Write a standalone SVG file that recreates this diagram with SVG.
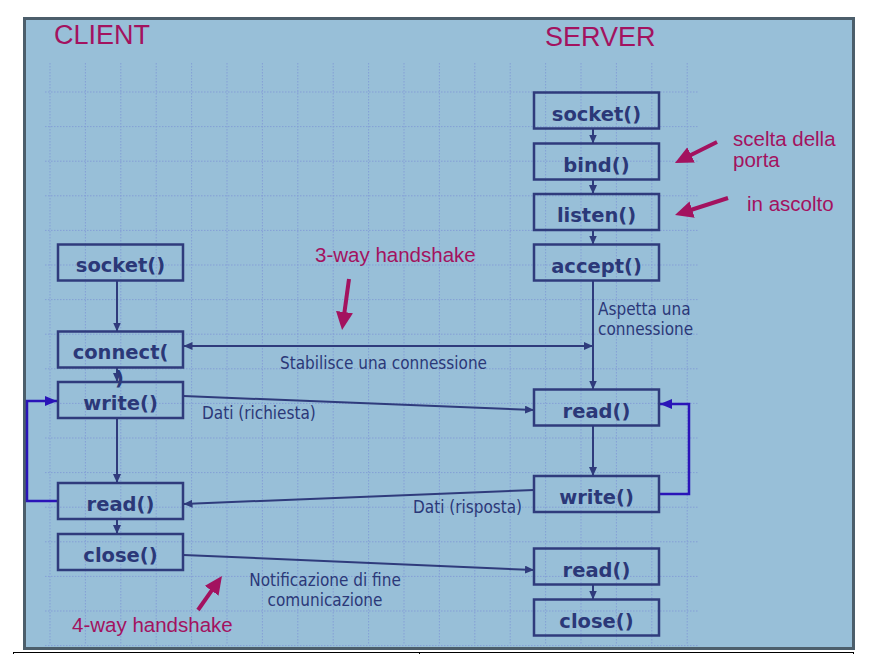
<svg xmlns="http://www.w3.org/2000/svg" width="882" height="654" viewBox="0 0 882 654">
<style>
.box{fill:none;stroke:#2f3b7c;stroke-width:2.5}
.bl{font-family:'DejaVu Sans',Verdana,sans-serif;font-weight:bold;font-size:19.5px;fill:#2b3878;text-anchor:middle}
.lbl{font-family:'DejaVu Sans Condensed','DejaVu Sans',sans-serif;font-stretch:condensed;font-size:17px;fill:#2b3878}
.mg{font-family:'Liberation Sans',Arial,sans-serif;font-size:20.5px;fill:#a3125f}
.ttl{font-family:'Liberation Sans',Arial,sans-serif;font-size:27px;fill:#a3125f}
.cn{fill:none;stroke:#2f3b7c;stroke-width:2}
.lp{fill:none;stroke:#2a14b8;stroke-width:2.5}
.ma{fill:none;stroke:#a3125f;stroke-width:4}
.grid{fill:none;stroke:#849fd6;stroke-width:1;stroke-dasharray:1.5 1.5}
</style>
<defs>
<marker id="an" markerUnits="userSpaceOnUse" markerWidth="9" markerHeight="8" refX="9" refY="4" orient="auto"><path d="M0,0 L9,4 L0,8 z" fill="#2f3b7c"/></marker>
<marker id="as" markerUnits="userSpaceOnUse" markerWidth="9" markerHeight="8" refX="0" refY="4" orient="auto"><path d="M9,0 L0,4 L9,8 z" fill="#2f3b7c"/></marker>
<marker id="ab" markerUnits="userSpaceOnUse" markerWidth="12" markerHeight="10" refX="12" refY="5" orient="auto"><path d="M0,0 L12,5 L0,10 z" fill="#2a14b8"/></marker>
<marker id="am" markerUnits="userSpaceOnUse" markerWidth="18" markerHeight="17" refX="8" refY="8.5" orient="auto"><path d="M0,0 L18,8.5 L0,17 z" fill="#a3125f"/></marker>
</defs>
<rect x="0" y="0" width="882" height="654" fill="#ffffff"/>
<rect x="24.5" y="18.5" width="829" height="630" fill="#98bfd8" stroke="#4c5e6b" stroke-width="3"/>
<path class="grid" d="M50,63V645M85.4,63V645M120.8,63V645M156.2,63V645M191.6,63V645M227,63V645M262.4,63V645M297.8,63V645M333.2,63V645M368.6,63V645M404,63V645M439.4,63V645M474.8,63V645M510.2,63V645M545.6,63V645M581,63V645M616.4,63V645M651.8,63V645M687.2,63V645M45,92H698M45,126.6H698M45,161.2H698M45,195.8H698M45,230.4H698M45,265H698M45,299.6H698M45,334.2H698M45,368.8H698M45,403.4H698M45,438H698M45,472.6H698M45,507.2H698M45,541.8H698M45,576.4H698M45,611H698M45,645.6H698"/>
<path d="M13,652.5H854M13.5,652V654M419.5,652V654M853.5,652V654" stroke="#000" stroke-width="1" fill="none"/>
<text class="ttl" x="54" y="44">CLIENT</text>
<text class="ttl" x="545" y="45.5">SERVER</text>
<g id="connectors">
<path class="cn" d="M593,128.5V143.5" marker-end="url(#an)"/>
<path class="cn" d="M593,179.5V194" marker-end="url(#an)"/>
<path class="cn" d="M593,230V244.5" marker-end="url(#an)"/>
<path class="cn" d="M593,280.5V389.5" marker-end="url(#an)"/>
<path class="cn" d="M593,425.5V476" marker-end="url(#an)"/>
<path class="cn" d="M593,584.5V599.5" marker-end="url(#an)"/>
<path class="cn" d="M117,280.5V331.5" marker-end="url(#an)"/>
<path class="cn" d="M117,367.5V382" marker-end="url(#an)"/>
<path class="cn" d="M117,418V483" marker-end="url(#an)"/>
<path class="cn" d="M117,519V534" marker-end="url(#an)"/>
<path class="cn" d="M183.5,346H593" marker-start="url(#as)" marker-end="url(#an)"/>
<path class="cn" d="M183.5,396L534,410" marker-end="url(#an)"/>
<path class="cn" d="M534,490L183.5,504" marker-end="url(#an)"/>
<path class="cn" d="M183.5,555L534,570" marker-end="url(#an)"/>
<path class="lp" d="M57,501H27V401H57" marker-end="url(#ab)"/>
<path class="lp" d="M660,494H689V404H660" marker-end="url(#ab)"/>
<path class="ma" d="M717,142L683.9,158.5" marker-end="url(#am)"/>
<path class="ma" d="M728,198L684.5,212" marker-end="url(#am)"/>
<path class="ma" d="M349,279L343.4,320" marker-end="url(#am)"/>
<path class="ma" d="M198,610L216.2,584.2" marker-end="url(#am)"/>
<text class="lbl" x="280" y="369">Stabilisce una connessione</text>
<text class="lbl" x="598" y="315">Aspetta una</text>
<text class="lbl" x="598" y="335">connessione</text>
<text class="lbl" x="202" y="419">Dati (richiesta)</text>
<text class="lbl" x="413" y="513">Dati (risposta)</text>
<text class="lbl" x="325" y="585.5" text-anchor="middle">Notificazione di fine</text>
<text class="lbl" x="325" y="605.5" text-anchor="middle">comunicazione</text>
</g>
<g id="s_socket"><rect class="box" x="534" y="92.5" width="125" height="36"/><text class="bl" x="596.5" y="120.5">socket()</text></g>
<g id="s_bind"><rect class="box" x="534" y="143.5" width="125" height="36"/><text class="bl" x="596.5" y="171.5">bind()</text></g>
<g id="s_listen"><rect class="box" x="534" y="194" width="125" height="36"/><text class="bl" x="596.5" y="222">listen()</text></g>
<g id="s_accept"><rect class="box" x="534" y="244.5" width="125" height="36"/><text class="bl" x="596.5" y="272.5">accept()</text></g>
<g id="s_read"><rect class="box" x="534" y="389.5" width="125" height="36"/><text class="bl" x="596.5" y="417.5">read()</text></g>
<g id="s_write"><rect class="box" x="534" y="476" width="125" height="36"/><text class="bl" x="596.5" y="504">write()</text></g>
<g id="s_read2"><rect class="box" x="534" y="548.5" width="125" height="36"/><text class="bl" x="596.5" y="576.5">read()</text></g>
<g id="s_close"><rect class="box" x="534" y="599.5" width="125" height="36"/><text class="bl" x="596.5" y="627.5">close()</text></g>
<g id="c_socket"><rect class="box" x="58" y="244.5" width="125" height="36"/><text class="bl" x="120.5" y="272">socket()</text></g>
<g id="c_connect"><rect class="box" x="58" y="331.5" width="125" height="36"/><text class="bl" x="120.5" y="358.5">connect(</text><text class="bl" x="119.5" y="385">)</text></g>
<g id="c_write"><rect class="box" x="58" y="382" width="125" height="36"/><text class="bl" x="120.5" y="410">write()</text></g>
<g id="c_read"><rect class="box" x="58" y="483" width="125" height="36"/><text class="bl" x="120.5" y="511">read()</text></g>
<g id="c_close"><rect class="box" x="58" y="534" width="125" height="36"/><text class="bl" x="120.5" y="562">close()</text></g>
<g id="annotations">
<text class="mg" x="733" y="145.5">scelta della</text>
<text class="mg" x="733" y="166.5">porta</text>
<text class="mg" x="747" y="211">in ascolto</text>
<text class="mg" x="315" y="262">3-way handshake</text>
<text class="mg" x="72" y="632">4-way handshake</text>
</g>
</svg>
